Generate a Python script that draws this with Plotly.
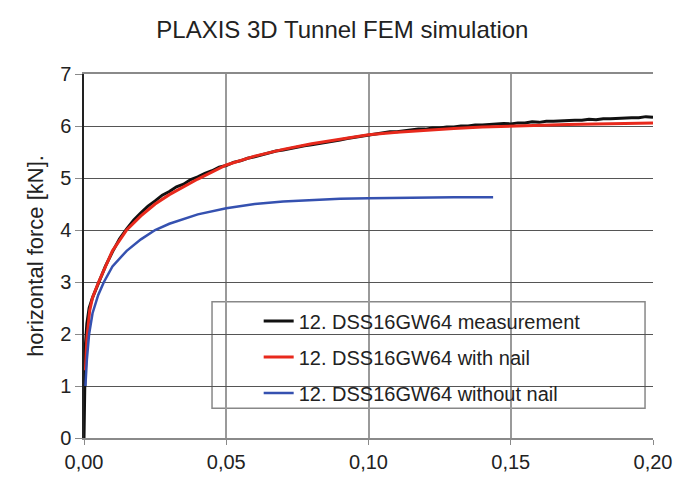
import plotly.graph_objects as go

title_text = "PLAXIS 3D Tunnel FEM simulation"
y_title = "horizontal force [kN]."
series_names = ["12. DSS16GW64 measurement", "12. DSS16GW64 with nail", "12. DSS16GW64 without nail"]
x_ticks = [0.00, 0.05, 0.10, 0.15, 0.20]
y_ticks = [0, 1, 2, 3, 4, 5, 6, 7]

# measurement (black)
meas_x = [0.0, 0.0002, 0.0005, 0.001, 0.0018, 0.003, 0.005, 0.0075, 0.01, 0.0125, 0.015, 0.0175,
          0.02, 0.0225, 0.025, 0.0275, 0.03, 0.0325, 0.035, 0.0375, 0.04, 0.0425, 0.045, 0.0475,
          0.05, 0.0525, 0.055, 0.0575, 0.06, 0.0625, 0.065, 0.0675, 0.07, 0.0725, 0.075, 0.0775,
          0.08, 0.0825, 0.085, 0.0875, 0.09, 0.0925, 0.095, 0.0975, 0.1, 0.1025, 0.105, 0.1075,
          0.11, 0.1125, 0.115, 0.1175, 0.12, 0.1225, 0.125, 0.1275, 0.13, 0.1325, 0.135, 0.1375,
          0.14, 0.1425, 0.145, 0.1475, 0.15, 0.1525, 0.155, 0.1575, 0.16, 0.1625, 0.165, 0.1675,
          0.17, 0.1725, 0.175, 0.1775, 0.18, 0.1825, 0.185, 0.1875, 0.19, 0.1925, 0.195, 0.1975, 0.2]
meas_y = [0.0, 1.0, 1.8, 2.2, 2.5, 2.7, 2.98, 3.3, 3.58, 3.83, 4.02, 4.19,
          4.33, 4.46, 4.56, 4.67, 4.74, 4.83, 4.88, 4.97, 5.02, 5.09, 5.14, 5.21,
          5.24, 5.30, 5.33, 5.38, 5.41, 5.45, 5.48, 5.52, 5.54, 5.57, 5.59, 5.62,
          5.64, 5.66, 5.68, 5.70, 5.73, 5.76, 5.78, 5.81, 5.83, 5.85, 5.86, 5.89,
          5.89, 5.91, 5.92, 5.94, 5.94, 5.96, 5.96, 5.98, 5.98, 6.00, 6.00, 6.02,
          6.02, 6.03, 6.03, 6.05, 6.04, 6.06, 6.06, 6.08, 6.07, 6.09, 6.09, 6.10,
          6.10, 6.11, 6.11, 6.13, 6.12, 6.14, 6.14, 6.15, 6.15, 6.16, 6.16, 6.18, 6.17]

# with nail (red)
nail_x = [0.0005, 0.001, 0.002, 0.003, 0.005, 0.0075, 0.01, 0.015, 0.02, 0.025, 0.03, 0.04,
          0.05, 0.06, 0.07, 0.08, 0.09, 0.10, 0.11, 0.12, 0.13, 0.14, 0.15, 0.16, 0.17, 0.18, 0.19, 0.20]
nail_y = [1.3, 1.9, 2.45, 2.7, 2.98, 3.3, 3.6, 4.0, 4.27, 4.5, 4.68, 4.98,
          5.25, 5.42, 5.55, 5.66, 5.75, 5.83, 5.88, 5.92, 5.95, 5.98, 6.0, 6.02, 6.03, 6.04, 6.05, 6.06]

# without nail (blue)
nonail_x = [0.0005, 0.001, 0.0018, 0.003, 0.005, 0.007, 0.01, 0.015, 0.02, 0.025, 0.03, 0.04,
            0.05, 0.06, 0.07, 0.08, 0.09, 0.10, 0.11, 0.12, 0.13, 0.1438]
nonail_y = [1.0, 1.5, 2.0, 2.4, 2.75, 3.0, 3.3, 3.6, 3.82, 4.0, 4.12, 4.3,
            4.42, 4.5, 4.55, 4.58, 4.6, 4.61, 4.62, 4.62, 4.63, 4.63]

colors = ["#111111", "#e8291c", "#3551b0"]
widths = [3, 3, 2.5]

fig = go.Figure()
for i, (xs, ys) in enumerate([(meas_x, meas_y), (nail_x, nail_y), (nonail_x, nonail_y)]):
    fig.add_trace(go.Scatter(x=xs, y=ys, mode="lines", name=series_names[i],
                             line=dict(color=colors[i], width=widths[i]),
                             legendgroup=f"g{i}"))

font_family = "Liberation Sans, Arial, sans-serif"
fig.update_layout(
    width=674, height=483,
    margin=dict(l=84, r=21, t=74, b=45, autoexpand=False),
    paper_bgcolor="white", plot_bgcolor="white",
    separators=", ",
    font=dict(family=font_family, color="#222222", size=20),
    title=dict(text=title_text, x=0.508, xanchor="center", y=0.938, yanchor="middle",
               font=dict(size=24, family=font_family, color="#222222")),
    showlegend=True,
    legend=dict(x=0.307, y=0.375, xanchor="left", yanchor="top",
                bgcolor="rgba(0,0,0,0)", borderwidth=0,
                font=dict(size=20, family=font_family, color="#222222"),
                tracegroupgap=7, traceorder="grouped"),
    shapes=[dict(type="rect", xref="paper", yref="paper", x0=0.225, x1=0.986, y0=0.082, y1=0.374,
                 line=dict(color="#888888", width=1.5), fillcolor="white", layer="below")],
)
fig.update_xaxes(range=[0, 0.2], tickvals=x_ticks, tickformat=".2f", automargin=False,
                 ticklabeloverflow="allow",
                 showgrid=True, gridcolor="#9a9a9a", gridwidth=1.5,
                 showline=True, linecolor="#8a8a8a", linewidth=1.5, mirror=True,
                 ticks="outside", ticklen=5, tickcolor="#8a8a8a", zeroline=False,
                 tickfont=dict(size=20))
fig.update_yaxes(range=[0, 7], tickvals=y_ticks, automargin=False,
                 showgrid=True, gridcolor="#555555", gridwidth=1.2,
                 showline=True, linecolor="#222222", linewidth=1.5,
                 ticks="outside", ticklen=7, tickcolor="#8a8a8a", zeroline=False,
                 tickfont=dict(size=20),
                 title=dict(text=y_title, font=dict(size=22), standoff=10))

fig.write_html("out.html", config={"displayModeBar": False},
               post_script="document.body.style.margin='0';document.body.style.overflow='hidden';")
